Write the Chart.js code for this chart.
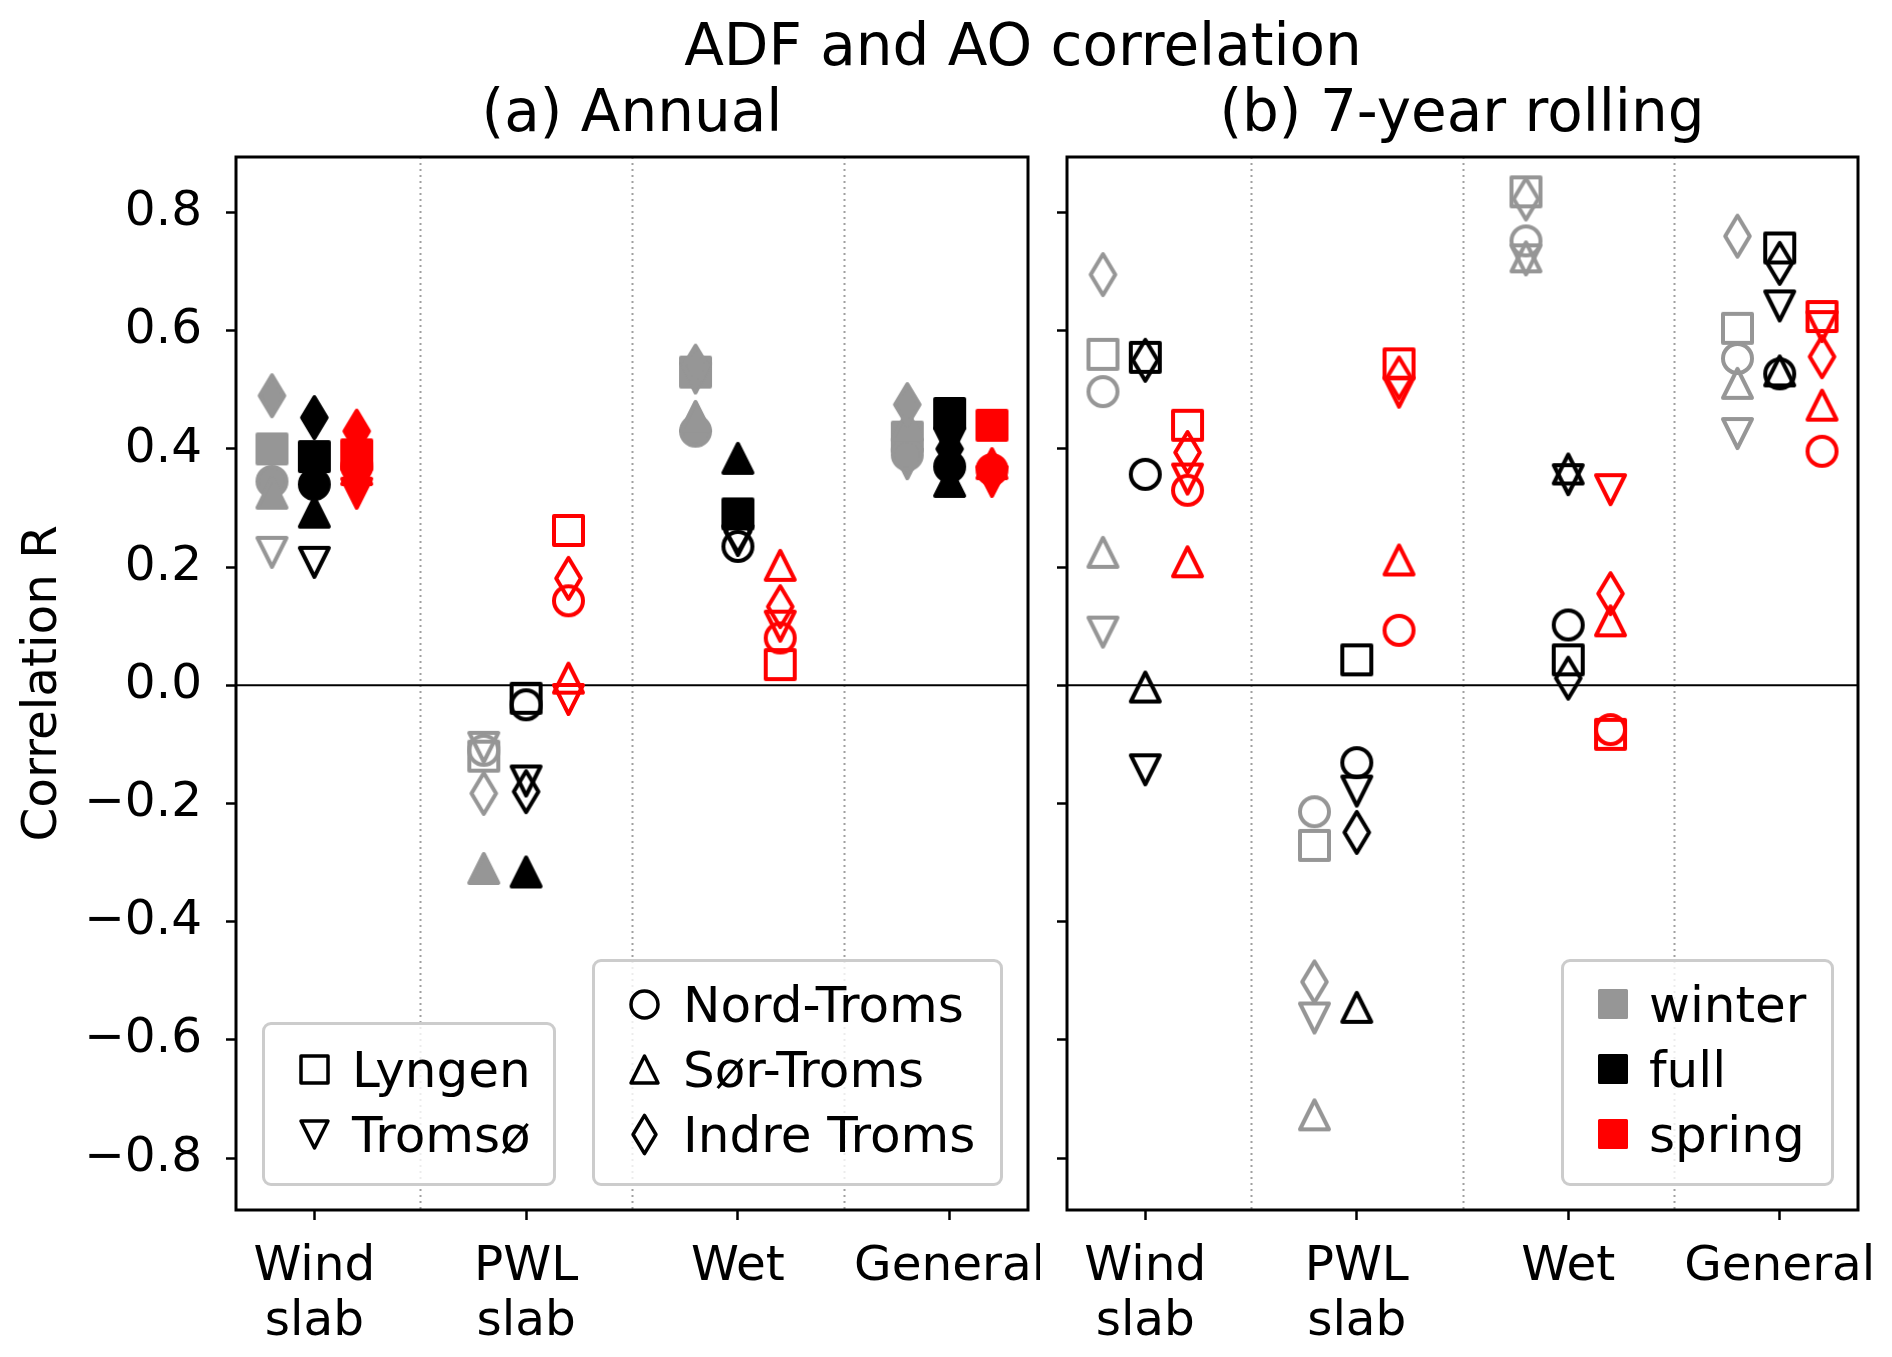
<!DOCTYPE html>
<html>
<head>
<meta charset="utf-8">
<script src="https://cdn.jsdelivr.net/npm/chart.js@4.4.0/dist/chart.umd.min.js"></script>
<style>
body { margin: 0; background: #fff; }
#wrap { position: relative; width: 1892px; height: 1357px; overflow: hidden; font-family: "DejaVu Sans", sans-serif; color: #000; }
.t { position: absolute; white-space: nowrap; text-align: center; }
.big { font-size: 58px; line-height: 58px; }
.mid { font-size: 48.5px; line-height: 48.5px; }
canvas.c { position: absolute; }
.box { position: absolute; border: 3px solid #cccccc; border-radius: 9px; background: rgba(255,255,255,0.8); box-sizing: border-box; }
.lt { position: absolute; white-space: nowrap; font-size: 50px; line-height: 50px; }
.lm { position: absolute; }
</style>
</head>
<body>
<div id="wrap">
  <div class="t big" style="left:623px;width:800px;top:16px;">ADF and AO correlation</div>
  <div class="t big" style="left:332px;width:600px;top:82px;">(a) Annual</div>
  <div class="t big" style="left:1162px;width:600px;top:82px;">(b) 7-year rolling</div>
  <div class="t mid" style="left:-161px;width:400px;top:659px;transform:rotate(-90deg);">Correlation R</div>
  <canvas id="chartA" class="c" width="1040" height="1227" style="left:0;top:130px;"></canvas>
  <canvas id="chartB" class="c" width="852" height="1227" style="left:1040px;top:130px;"></canvas>
  <div id="legends"></div>
</div>
<script>
const categories = [['Wind', 'slab'], ['PWL', 'slab'], 'Wet', 'General'];
const regions = ['Lyngen', 'Tromsø', 'Nord-Troms', 'Sør-Troms', 'Indre Troms'];
const seasons = ['winter', 'full', 'spring'];
const yTicks = [-0.8, -0.6, -0.4, -0.2, 0.0, 0.2, 0.4, 0.6, 0.8];

// (a) annual correlation, one row per region, one column per category
const annualWinter = [
  [0.40, -0.12, 0.53, 0.42],
  [0.225, -0.105, 0.52, 0.375],
  [0.345, -0.11, 0.43, 0.39],
  [0.325, -0.31, 0.455, 0.44],
  [0.49, -0.183, 0.54, 0.475]
];
const annualFull = [
  [0.387, -0.022, 0.29, 0.46],
  [0.208, -0.162, 0.245, 0.41],
  [0.34, -0.033, 0.235, 0.37],
  [0.293, -0.316, 0.384, 0.345],
  [0.453, -0.18, 0.26, 0.40]
];
const annualSpring = [
  [0.39, 0.262, 0.035, 0.44],
  [0.325, -0.024, 0.10, 0.345],
  [0.37, 0.143, 0.08, 0.365],
  [0.365, 0.012, 0.203, 0.375],
  [0.43, 0.181, 0.133, 0.36]
];
// filled marker = 1 (significant), open = 0
const annualWinterFilled = [[1,0,1,1],[0,0,1,1],[1,0,1,1],[1,1,1,1],[1,0,1,1]];
const annualFullFilled   = [[1,0,1,1],[0,0,0,1],[1,0,0,1],[1,1,1,1],[1,0,0,1]];
const annualSpringFilled = [[1,0,0,1],[1,0,0,1],[1,0,0,1],[1,0,0,1],[1,0,0,1]];

// (b) 7-year rolling correlation
const rollingWinter = [
  [0.56, -0.271, 0.835, 0.604],
  [0.09, -0.563, 0.72, 0.426],
  [0.497, -0.214, 0.752, 0.553],
  [0.225, -0.727, 0.725, 0.511],
  [0.695, -0.502, 0.823, 0.76]
];
const rollingFull = [
  [0.555, 0.043, 0.043, 0.74],
  [-0.143, -0.179, 0.348, 0.642],
  [0.357, -0.131, 0.102, 0.527],
  [-0.003, -0.545, 0.366, 0.532],
  [0.55, -0.249, 0.012, 0.714]
];
const rollingSpring = [
  [0.44, 0.544, -0.083, 0.624],
  [0.349, 0.496, 0.331, 0.607],
  [0.33, 0.093, -0.075, 0.396],
  [0.209, 0.212, 0.109, 0.474],
  [0.394, 0.52, 0.155, 0.556]
];

const seasonColors = ['#969696', '#000000', '#ff0000'];
const seasonDodge = [-0.2, 0, 0.2];
const regionShapes = ['square', 'triDown', 'circle', 'triUp', 'thinDiamond'];
const separators = [0.5, 1.5, 2.5];

const markerCache = {};
function marker(shape, color, filled, ms, lw) {
  ms = ms || 29; lw = lw || 4;
  const key = [shape, color, filled, ms, lw].join('|');
  if (markerCache[key]) return markerCache[key];
  const c = document.createElement('canvas');
  const size = Math.ceil(ms * 1.6 + lw * 2);
  c.width = size; c.height = size;
  const ctx = c.getContext('2d');
  ctx.translate(size / 2, size / 2);
  ctx.beginPath();
  const h = ms / 2;
  if (shape === 'square') {
    ctx.rect(-h, -h, ms, ms);
  } else if (shape === 'circle') {
    ctx.arc(0, 0, h, 0, Math.PI * 2);
  } else if (shape === 'triUp') {
    ctx.moveTo(0, -h); ctx.lineTo(h, h); ctx.lineTo(-h, h); ctx.closePath();
  } else if (shape === 'triDown') {
    ctx.moveTo(0, h); ctx.lineTo(h, -h); ctx.lineTo(-h, -h); ctx.closePath();
  } else {
    const hh = ms * Math.SQRT1_2, hw = 0.6 * hh;
    ctx.moveTo(0, -hh); ctx.lineTo(hw, 0); ctx.lineTo(0, hh); ctx.lineTo(-hw, 0); ctx.closePath();
  }
  ctx.lineJoin = 'round';
  ctx.lineWidth = lw;
  ctx.strokeStyle = color;
  if (filled) { ctx.fillStyle = color; ctx.fill(); }
  ctx.stroke();
  markerCache[key] = c;
  return c;
}

function buildDatasets(values, filled) {
  const sets = [];
  seasons.forEach((s, si) => {
    regions.forEach((r, ri) => {
      const row = values[si][ri];
      sets.push({
        label: s + ' ' + r,
        data: row.map((v, ci) => ({ x: ci + seasonDodge[si], y: v })),
        pointStyle: row.map((v, ci) => marker(regionShapes[ri], seasonColors[si], filled ? filled[si][ri][ci] : 0)),
        // the image marker sets the drawn size; a small radius keeps Chart.js from padding the area
        pointRadius: 3,
        pointHoverRadius: 3,
        pointBorderWidth: 0,
        borderWidth: 0,
        showLine: false
      });
    });
  });
  // Chart.js paints the first dataset last; keep later series on top
  return sets.reverse();
}

const frame = {
  id: 'frame',
  beforeDatasetsDraw(chart) {
    const { ctx, chartArea: a, scales: { x, y } } = chart;
    ctx.save();
    ctx.strokeStyle = '#a0a0a0';
    ctx.lineWidth = 2;
    ctx.setLineDash([2, 4]);
    separators.forEach(v => {
      const px = Math.round(x.getPixelForValue(v)) + 0.5;
      ctx.beginPath(); ctx.moveTo(px, a.top); ctx.lineTo(px, a.bottom); ctx.stroke();
    });
    ctx.setLineDash([]);
    ctx.strokeStyle = '#000';
    ctx.lineWidth = 2;
    const py = y.getPixelForValue(0);
    ctx.beginPath(); ctx.moveTo(a.left, py); ctx.lineTo(a.right, py); ctx.stroke();
    ctx.restore();
  },
  afterDraw(chart) {
    const { ctx, chartArea: a } = chart;
    ctx.save();
    ctx.strokeStyle = '#000';
    ctx.lineWidth = 3;
    ctx.strokeRect(a.left, a.top, a.right - a.left, a.bottom - a.top);
    ctx.restore();
  }
};

const tickFont = { family: 'DejaVu Sans', size: 48.5, lineHeight: 1.13 };

// fixed axis box, and no extra room for overhanging tick labels
function fixBox(s, w, h) {
  if (w !== null) s.width = w;
  if (h !== null) s.height = h;
  s.paddingTop = 0; s.paddingBottom = 0; s.paddingLeft = 0; s.paddingRight = 0;
}

function makeChart(id, datasets, yWidth, padRight, showYLabels) {
  return new Chart(document.getElementById(id), {
    type: 'scatter',
    data: { datasets },
    options: {
      responsive: false,
      animation: false,
      events: [],
      layout: { padding: { top: 27, right: padRight, left: 0, bottom: 0 } },
      plugins: { legend: { display: false }, tooltip: { enabled: false } },
      scales: {
        x: {
          type: 'linear', min: -0.37, max: 3.37,
          afterBuildTicks: s => { s.ticks = [0, 1, 2, 3].map(v => ({ value: v })); },
          afterFit: s => fixBox(s, null, 147),
          ticks: { callback: v => categories[v], font: tickFont, color: '#000', padding: 20, maxRotation: 0, minRotation: 0, autoSkip: false },
          grid: { drawOnChartArea: false, tickLength: 10, tickWidth: 2.5, tickColor: '#000' },
          border: { display: false }
        },
        y: {
          min: -0.888, max: 0.894,
          afterBuildTicks: s => { s.ticks = yTicks.map(v => ({ value: v })); },
          afterFit: s => fixBox(s, yWidth, null),
          ticks: {
            callback: v => showYLabels ? (v < -1e-9 ? '\u2212' : '') + Math.abs(v).toFixed(1) : '',
            font: tickFont, color: '#000', padding: 24
          },
          grid: { drawOnChartArea: false, tickLength: 10, tickWidth: 2.5, tickColor: '#000' },
          border: { display: false }
        }
      }
    },
    plugins: [frame]
  });
}

makeChart('chartA', buildDatasets([annualWinter, annualFull, annualSpring],
  [annualWinterFilled, annualFullFilled, annualSpringFilled]), 236, 12, true);
makeChart('chartB', buildDatasets([rollingWinter, rollingFull, rollingSpring], null), 27, 34, false);

// legends
const legendHost = document.getElementById('legends');
function addBox(l, t, r, b) {
  const d = document.createElement('div');
  d.className = 'box';
  Object.assign(d.style, { left: l + 'px', top: t + 'px', width: (r - l) + 'px', height: (b - t) + 'px' });
  legendHost.appendChild(d);
}
function addEntry(mk, mx, tx, cy, text) {
  const img = document.createElement('img');
  img.className = 'lm';
  img.src = mk.toDataURL();
  img.style.left = (mx - mk.width / 2) + 'px';
  img.style.top = (cy - mk.height / 2) + 'px';
  legendHost.appendChild(img);
  const s = document.createElement('div');
  s.className = 'lt';
  s.textContent = text;
  s.style.left = tx + 'px';
  s.style.top = (cy - 24) + 'px';
  legendHost.appendChild(s);
}
addBox(262, 1022, 556, 1186);
addEntry(marker('square', '#000', 0, 27, 3.5), 314, 352, 1069, regions[0]);
addEntry(marker('triDown', '#000', 0, 27, 3.5), 314, 352, 1134, regions[1]);
addBox(592, 959, 1003, 1186);
addEntry(marker('circle', '#000', 0, 27, 3.5), 644, 683, 1004, regions[2]);
addEntry(marker('triUp', '#000', 0, 27, 3.5), 644, 683, 1069, regions[3]);
addEntry(marker('thinDiamond', '#000', 0, 27, 3.5), 644, 683, 1134, regions[4]);
addBox(1561, 959, 1834, 1186);
[1004, 1069, 1134].forEach((cy, i) => {
  addEntry(marker('square', seasonColors[i], 1, 27, 3), 1613, 1649, cy, seasons[i]);
});
</script>
</body>
</html>
